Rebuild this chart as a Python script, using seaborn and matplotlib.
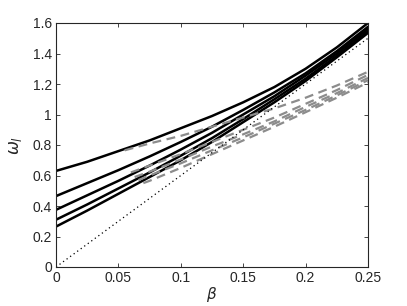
import numpy as np
import pandas as pd
import seaborn as sns
import matplotlib
matplotlib.use("Agg")
import matplotlib.pyplot as plt

# beta grid for the solid curves
beta = [0, 0.025, 0.05, 0.075, 0.1, 0.125, 0.15, 0.175, 0.2, 0.225, 0.25]

# solid black curves
solid_1 = [0.63, 0.69, 0.76, 0.83, 0.91, 0.99, 1.08, 1.18, 1.30, 1.44, 1.60]
solid_2 = [0.465, 0.55, 0.635, 0.725, 0.82, 0.92, 1.03, 1.145, 1.27, 1.415, 1.575]
solid_3 = [0.375, 0.47, 0.565, 0.665, 0.77, 0.88, 1.00, 1.12, 1.255, 1.40, 1.56]
solid_4 = [0.31, 0.41, 0.515, 0.62, 0.73, 0.845, 0.97, 1.10, 1.235, 1.385, 1.545]
solid_5 = [0.265, 0.37, 0.48, 0.59, 0.70, 0.82, 0.95, 1.08, 1.22, 1.375, 1.535]

# gray dashed curves, each starts a bit later
dash_beta_1 = [0.055, 0.075, 0.1, 0.125, 0.15, 0.175, 0.2, 0.225, 0.25]
dash_1 = [0.765, 0.81, 0.86, 0.92, 0.98, 1.04, 1.11, 1.19, 1.28]
dash_beta_2 = [0.06, 0.075, 0.1, 0.125, 0.15, 0.175, 0.2, 0.225, 0.25]
dash_2 = [0.62, 0.665, 0.74, 0.82, 0.90, 0.98, 1.07, 1.16, 1.26]
dash_beta_3 = [0.063, 0.075, 0.1, 0.125, 0.15, 0.175, 0.2, 0.225, 0.25]
dash_3 = [0.59, 0.625, 0.705, 0.79, 0.87, 0.955, 1.05, 1.14, 1.24]
dash_beta_4 = [0.066, 0.075, 0.1, 0.125, 0.15, 0.175, 0.2, 0.225, 0.25]
dash_4 = [0.57, 0.60, 0.68, 0.765, 0.85, 0.94, 1.03, 1.125, 1.225]
dash_beta_5 = [0.07, 0.075, 0.1, 0.125, 0.15, 0.175, 0.2, 0.225, 0.25]
dash_5 = [0.55, 0.565, 0.65, 0.74, 0.83, 0.92, 1.015, 1.11, 1.21]

# dotted reference line
ref_beta = [0, 0.25]
ref_omega = [0, 1.5]

xticks = [0, 0.05, 0.1, 0.15, 0.2, 0.25]
xtick_labels = ["0", "0.05", "0.1", "0.15", "0.2", "0.25"]
yticks = [0, 0.2, 0.4, 0.6, 0.8, 1.0, 1.2, 1.4, 1.6]
ytick_labels = ["0", "0.2", "0.4", "0.6", "0.8", "1", "1.2", "1.4", "1.6"]

sns.set_style("ticks")
plt.rcParams["font.family"] = ["Liberation Sans", "DejaVu Sans"]
plt.rcParams["mathtext.fontset"] = "dejavusans"

fig = plt.figure(figsize=(4.07, 3.06), dpi=100)
ax = fig.add_axes([56 / 407, 39 / 306, 312 / 407, 244 / 306])

for ys in [solid_1, solid_2, solid_3, solid_4, solid_5]:
    sns.lineplot(x=beta, y=ys, color="black", linewidth=1.8, ax=ax)

for xs, ys in [(dash_beta_1, dash_1), (dash_beta_2, dash_2), (dash_beta_3, dash_3),
               (dash_beta_4, dash_4), (dash_beta_5, dash_5)]:
    sns.lineplot(x=xs, y=ys, color="#8c8c8c", linewidth=1.6, linestyle=(0, (4, 2.5)), ax=ax)

sns.lineplot(x=ref_beta, y=ref_omega, color="black", linewidth=0.9, linestyle=(0, (1, 2.5)), ax=ax)

ax.set_xlim(0, 0.25)
ax.set_ylim(0, 1.6)
ax.set_xticks(xticks)
ax.set_xticklabels(xtick_labels)
ax.set_yticks(yticks)
ax.set_yticklabels(ytick_labels)
ax.tick_params(direction="in", length=3, width=0.6, labelsize=10, top=True, right=True, pad=3)
for s in ax.spines.values():
    s.set_linewidth(0.8)
    s.set_visible(True)

ax.set_xlabel(r"$\beta$", fontsize=11, labelpad=0)
ax.set_ylabel(r"$\omega_l$", fontsize=12, labelpad=6)

fig.savefig("out.png", dpi=100)
